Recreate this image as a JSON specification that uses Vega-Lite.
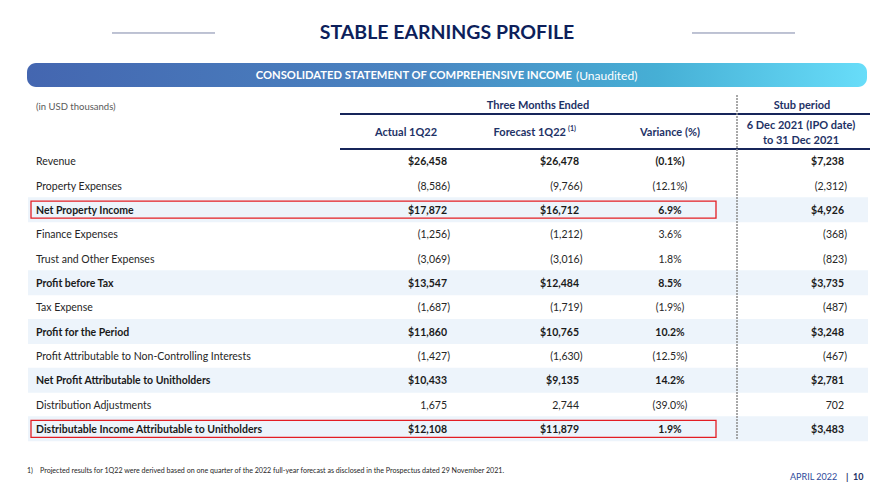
{
  "$schema": "https://vega.github.io/schema/vega-lite/v6.json",
  "width": 876,
  "height": 485,
  "autosize": "none",
  "padding": 0,
  "background": "white",
  "config": {"view": {"stroke": null}, "text": {"font": "Lato", "baseline": "middle", "dy": 1.2}, "scale": {"continuousPadding": 0}},
  "data": {"values": [
    {"order": 0, "item": "Revenue", "actual": "$26,458", "forecast": "$26,478", "variance": "(0.1%)", "stub": "$7,238", "subtotal": false, "boldValues": true, "highlight": false},
    {"order": 1, "item": "Property Expenses", "actual": "(8,586)", "forecast": "(9,766)", "variance": "(12.1%)", "stub": "(2,312)", "subtotal": false, "boldValues": false, "highlight": false},
    {"order": 2, "item": "Net Property Income", "actual": "$17,872", "forecast": "$16,712", "variance": "6.9%", "stub": "$4,926", "subtotal": true, "boldValues": true, "highlight": true},
    {"order": 3, "item": "Finance Expenses", "actual": "(1,256)", "forecast": "(1,212)", "variance": "3.6%", "stub": "(368)", "subtotal": false, "boldValues": false, "highlight": false},
    {"order": 4, "item": "Trust and Other Expenses", "actual": "(3,069)", "forecast": "(3,016)", "variance": "1.8%", "stub": "(823)", "subtotal": false, "boldValues": false, "highlight": false},
    {"order": 5, "item": "Profit before Tax", "actual": "$13,547", "forecast": "$12,484", "variance": "8.5%", "stub": "$3,735", "subtotal": true, "boldValues": true, "highlight": false},
    {"order": 6, "item": "Tax Expense", "actual": "(1,687)", "forecast": "(1,719)", "variance": "(1.9%)", "stub": "(487)", "subtotal": false, "boldValues": false, "highlight": false},
    {"order": 7, "item": "Profit for the Period", "actual": "$11,860", "forecast": "$10,765", "variance": "10.2%", "stub": "$3,248", "subtotal": true, "boldValues": true, "highlight": false},
    {"order": 8, "item": "Profit Attributable to Non-Controlling Interests", "actual": "(1,427)", "forecast": "(1,630)", "variance": "(12.5%)", "stub": "(467)", "subtotal": false, "boldValues": false, "highlight": false},
    {"order": 9, "item": "Net Profit Attributable to Unitholders", "actual": "$10,433", "forecast": "$9,135", "variance": "14.2%", "stub": "$2,781", "subtotal": true, "boldValues": true, "highlight": false},
    {"order": 10, "item": "Distribution Adjustments", "actual": "1,675", "forecast": "2,744", "variance": "(39.0%)", "stub": "702", "subtotal": false, "boldValues": false, "highlight": false},
    {"order": 11, "item": "Distributable Income Attributable to Unitholders", "actual": "$12,108", "forecast": "$11,879", "variance": "1.9%", "stub": "$3,483", "subtotal": true, "boldValues": true, "highlight": true}
  ]},
  "layer": [
    {"data": {"values": [{}]}, "mark": {"type": "rule", "color": "#7d87a8", "strokeWidth": 1},
     "encoding": {"x": {"datum": 112, "type": "quantitative", "scale": {"domain": [0, 876], "nice": false, "zero": false}, "axis": null}, "x2": {"datum": 215},
                  "y": {"datum": -5.257, "type": "quantitative", "scale": {"domain": [-6.612, 13.306], "reverse": true, "nice": false, "zero": false}, "axis": null}}},
    {"data": {"values": [{}]}, "mark": {"type": "rule", "color": "#7d87a8", "strokeWidth": 1},
     "encoding": {"x": {"datum": 692, "type": "quantitative", "scale": {"domain": [0, 876], "nice": false, "zero": false}, "axis": null}, "x2": {"datum": 795},
                  "y": {"datum": -5.257, "type": "quantitative", "scale": {"domain": [-6.612, 13.306], "reverse": true, "nice": false, "zero": false}, "axis": null}}},
    {"data": {"values": [{}]}, "mark": {"type": "text", "text": "STABLE EARNINGS PROFILE", "fontSize": 19.5, "fontWeight": "bold", "color": "#0d1f5b", "align": "center"},
     "encoding": {"x": {"datum": 447, "type": "quantitative", "scale": {"domain": [0, 876], "nice": false, "zero": false}, "axis": null},
                  "y": {"datum": -5.298, "type": "quantitative", "scale": {"domain": [-6.612, 13.306], "reverse": true, "nice": false, "zero": false}, "axis": null}}},
    {"data": {"values": [{}]}, "mark": {"type": "rect", "cornerRadius": 9,
       "fill": {"gradient": "linear", "x1": 0, "x2": 1, "y1": 0, "y2": 0, "stops": [{"offset": 0, "color": "#4466b0"}, {"offset": 0.45, "color": "#4a84c1"}, {"offset": 0.75, "color": "#46afd5"}, {"offset": 1, "color": "#68ddf9"}]}},
     "encoding": {"x": {"datum": 27, "type": "quantitative", "scale": {"domain": [0, 876], "nice": false, "zero": false}, "axis": null}, "x2": {"datum": 867},
                  "y": {"datum": -4.025, "type": "quantitative", "scale": {"domain": [-6.612, 13.306], "reverse": true, "nice": false, "zero": false}, "axis": null}, "y2": {"datum": -3.039}}},
    {"data": {"values": [{}]}, "mark": {"type": "text", "text": "CONSOLIDATED STATEMENT OF COMPREHENSIVE INCOME", "fontSize": 11.2, "fontWeight": "bold", "color": "white", "align": "right"},
     "encoding": {"x": {"datum": 572, "type": "quantitative", "scale": {"domain": [0, 876], "nice": false, "zero": false}, "axis": null},
                  "y": {"datum": -3.532, "type": "quantitative", "scale": {"domain": [-6.612, 13.306], "reverse": true, "nice": false, "zero": false}, "axis": null}}},
    {"data": {"values": [{}]}, "mark": {"type": "text", "text": "(Unaudited)", "fontSize": 12, "color": "white", "align": "left"},
     "encoding": {"x": {"datum": 576, "type": "quantitative", "scale": {"domain": [0, 876], "nice": false, "zero": false}, "axis": null},
                  "y": {"datum": -3.532, "type": "quantitative", "scale": {"domain": [-6.612, 13.306], "reverse": true, "nice": false, "zero": false}, "axis": null}}},
    {"data": {"values": [{}]}, "mark": {"type": "text", "text": "(in USD thousands)", "fontSize": 9.5, "color": "#595959", "align": "left"},
     "encoding": {"x": {"datum": 36, "type": "quantitative", "scale": {"domain": [0, 876], "nice": false, "zero": false}, "axis": null},
                  "y": {"datum": -2.259, "type": "quantitative", "scale": {"domain": [-6.612, 13.306], "reverse": true, "nice": false, "zero": false}, "axis": null}}},
    {"data": {"values": [{}]}, "mark": {"type": "text", "text": "Three Months Ended", "fontSize": 11, "fontWeight": "bold", "color": "#1e3266", "align": "center"},
     "encoding": {"x": {"datum": 538, "type": "quantitative", "scale": {"domain": [0, 876], "nice": false, "zero": false}, "axis": null},
                  "y": {"datum": -2.3, "type": "quantitative", "scale": {"domain": [-6.612, 13.306], "reverse": true, "nice": false, "zero": false}, "axis": null}}},
    {"data": {"values": [{}]}, "mark": {"type": "text", "text": "Stub period", "fontSize": 11, "fontWeight": "bold", "color": "#1e3266", "align": "center"},
     "encoding": {"x": {"datum": 802, "type": "quantitative", "scale": {"domain": [0, 876], "nice": false, "zero": false}, "axis": null},
                  "y": {"datum": -2.3, "type": "quantitative", "scale": {"domain": [-6.612, 13.306], "reverse": true, "nice": false, "zero": false}, "axis": null}}},
    {"data": {"values": [{}]}, "mark": {"type": "rule", "color": "#16255a", "strokeWidth": 2},
     "encoding": {"x": {"datum": 340, "type": "quantitative", "scale": {"domain": [0, 876], "nice": false, "zero": false}, "axis": null}, "x2": {"datum": 870},
                  "y": {"datum": -1.93, "type": "quantitative", "scale": {"domain": [-6.612, 13.306], "reverse": true, "nice": false, "zero": false}, "axis": null}}},
    {"data": {"values": [{}]}, "mark": {"type": "rule", "color": "#16255a", "strokeWidth": 2},
     "encoding": {"x": {"datum": 340, "type": "quantitative", "scale": {"domain": [0, 876], "nice": false, "zero": false}, "axis": null}, "x2": {"datum": 870},
                  "y": {"datum": -0.493, "type": "quantitative", "scale": {"domain": [-6.612, 13.306], "reverse": true, "nice": false, "zero": false}, "axis": null}}},
    {"data": {"values": [{}]}, "mark": {"type": "text", "text": "Actual 1Q22", "fontSize": 11, "fontWeight": "bold", "color": "#1e3266", "align": "center"},
     "encoding": {"x": {"datum": 406, "type": "quantitative", "scale": {"domain": [0, 876], "nice": false, "zero": false}, "axis": null},
                  "y": {"datum": -1.191, "type": "quantitative", "scale": {"domain": [-6.612, 13.306], "reverse": true, "nice": false, "zero": false}, "axis": null}}},
    {"data": {"values": [{}]}, "mark": {"type": "text", "text": "Forecast 1Q22", "fontSize": 11, "fontWeight": "bold", "color": "#1e3266", "align": "right"},
     "encoding": {"x": {"datum": 566, "type": "quantitative", "scale": {"domain": [0, 876], "nice": false, "zero": false}, "axis": null},
                  "y": {"datum": -1.191, "type": "quantitative", "scale": {"domain": [-6.612, 13.306], "reverse": true, "nice": false, "zero": false}, "axis": null}}},
    {"data": {"values": [{}]}, "mark": {"type": "text", "text": "(1)", "fontSize": 7, "fontWeight": "bold", "color": "#1e3266", "align": "left"},
     "encoding": {"x": {"datum": 568, "type": "quantitative", "scale": {"domain": [0, 876], "nice": false, "zero": false}, "axis": null},
                  "y": {"datum": -1.37, "type": "quantitative", "scale": {"domain": [-6.612, 13.306], "reverse": true, "nice": false, "zero": false}, "axis": null}}},
    {"data": {"values": [{}]}, "mark": {"type": "text", "text": "Variance (%)", "fontSize": 11, "fontWeight": "bold", "color": "#1e3266", "align": "center"},
     "encoding": {"x": {"datum": 670, "type": "quantitative", "scale": {"domain": [0, 876], "nice": false, "zero": false}, "axis": null},
                  "y": {"datum": -1.191, "type": "quantitative", "scale": {"domain": [-6.612, 13.306], "reverse": true, "nice": false, "zero": false}, "axis": null}}},
    {"data": {"values": [{}]}, "mark": {"type": "text", "text": "6 Dec 2021 (IPO date)", "fontSize": 11, "fontWeight": "bold", "color": "#1e3266", "align": "center"},
     "encoding": {"x": {"datum": 801, "type": "quantitative", "scale": {"domain": [0, 876], "nice": false, "zero": false}, "axis": null},
                  "y": {"datum": -1.478, "type": "quantitative", "scale": {"domain": [-6.612, 13.306], "reverse": true, "nice": false, "zero": false}, "axis": null}}},
    {"data": {"values": [{}]}, "mark": {"type": "text", "text": "to 31 Dec 2021", "fontSize": 11, "fontWeight": "bold", "color": "#1e3266", "align": "center"},
     "encoding": {"x": {"datum": 801, "type": "quantitative", "scale": {"domain": [0, 876], "nice": false, "zero": false}, "axis": null},
                  "y": {"datum": -0.862, "type": "quantitative", "scale": {"domain": [-6.612, 13.306], "reverse": true, "nice": false, "zero": false}, "axis": null}}},
    {"transform": [{"filter": "datum.subtotal"}], "mark": {"type": "bar", "orient": "horizontal", "height": 25, "color": "#edf4fb"},
     "encoding": {"x": {"datum": 28, "type": "quantitative", "scale": {"domain": [0, 876], "nice": false, "zero": false, "padding": 0}, "axis": null}, "x2": {"datum": 868},
                  "y": {"field": "order", "type": "quantitative", "scale": {"domain": [-6.612, 13.306], "reverse": true, "nice": false, "zero": false, "padding": 0}, "axis": null}}},
    {"data": {"values": [{}]}, "mark": {"type": "rule", "color": "#8c8c8c", "strokeWidth": 1.5, "strokeDash": [2, 1]},
     "encoding": {"x": {"datum": 737, "type": "quantitative", "scale": {"domain": [0, 876], "nice": false, "zero": false}, "axis": null},
                  "y": {"datum": -2.71, "type": "quantitative", "scale": {"domain": [-6.612, 13.306], "reverse": true, "nice": false, "zero": false}, "axis": null}, "y2": {"datum": 11.458}}},
    {"transform": [{"filter": "datum.highlight"}], "mark": {"type": "bar", "orient": "horizontal", "height": 17, "fill": "white", "fillOpacity": 0, "stroke": "#e31e24", "strokeWidth": 1.3},
     "encoding": {"x": {"datum": 31, "type": "quantitative", "scale": {"domain": [0, 876], "nice": false, "zero": false, "padding": 0}, "axis": null}, "x2": {"datum": 716},
                  "y": {"field": "order", "type": "quantitative", "scale": {"domain": [-6.612, 13.306], "reverse": true, "nice": false, "zero": false, "padding": 0}, "axis": null}}},
    {"transform": [{"filter": "datum.subtotal"}], "mark": {"type": "text", "fontSize": 10.5, "fontWeight": "bold", "color": "#1a1a1a", "align": "left"},
     "encoding": {"x": {"datum": 36, "type": "quantitative", "scale": {"domain": [0, 876], "nice": false, "zero": false}, "axis": null},
                  "y": {"field": "order", "type": "quantitative", "scale": {"domain": [-6.612, 13.306], "reverse": true, "nice": false, "zero": false}, "axis": null},
                  "text": {"field": "item"}}},
    {"transform": [{"filter": "!datum.subtotal"}], "mark": {"type": "text", "fontSize": 10.5, "color": "#262626", "align": "left"},
     "encoding": {"x": {"datum": 36, "type": "quantitative", "scale": {"domain": [0, 876], "nice": false, "zero": false}, "axis": null},
                  "y": {"field": "order", "type": "quantitative", "scale": {"domain": [-6.612, 13.306], "reverse": true, "nice": false, "zero": false}, "axis": null},
                  "text": {"field": "item"}}},
    {"transform": [{"filter": "datum.boldValues"}], "mark": {"type": "text", "fontSize": 10.5, "fontWeight": "bold", "color": "#1a1a1a", "align": "right"},
     "encoding": {"x": {"datum": 447, "type": "quantitative", "scale": {"domain": [0, 876], "nice": false, "zero": false}, "axis": null},
                  "y": {"field": "order", "type": "quantitative", "scale": {"domain": [-6.612, 13.306], "reverse": true, "nice": false, "zero": false}, "axis": null},
                  "text": {"field": "actual"}}},
    {"transform": [{"filter": "!datum.boldValues && substring(datum.actual, 0, 1) == '('"}], "mark": {"type": "text", "fontSize": 10.5, "color": "#262626", "align": "right"},
     "encoding": {"x": {"datum": 450, "type": "quantitative", "scale": {"domain": [0, 876], "nice": false, "zero": false}, "axis": null},
                  "y": {"field": "order", "type": "quantitative", "scale": {"domain": [-6.612, 13.306], "reverse": true, "nice": false, "zero": false}, "axis": null},
                  "text": {"field": "actual"}}},
    {"transform": [{"filter": "!datum.boldValues && substring(datum.actual, 0, 1) != '('"}], "mark": {"type": "text", "fontSize": 10.5, "color": "#262626", "align": "right"},
     "encoding": {"x": {"datum": 447, "type": "quantitative", "scale": {"domain": [0, 876], "nice": false, "zero": false}, "axis": null},
                  "y": {"field": "order", "type": "quantitative", "scale": {"domain": [-6.612, 13.306], "reverse": true, "nice": false, "zero": false}, "axis": null},
                  "text": {"field": "actual"}}},
    {"transform": [{"filter": "datum.boldValues"}], "mark": {"type": "text", "fontSize": 10.5, "fontWeight": "bold", "color": "#1a1a1a", "align": "right"},
     "encoding": {"x": {"datum": 579, "type": "quantitative", "scale": {"domain": [0, 876], "nice": false, "zero": false}, "axis": null},
                  "y": {"field": "order", "type": "quantitative", "scale": {"domain": [-6.612, 13.306], "reverse": true, "nice": false, "zero": false}, "axis": null},
                  "text": {"field": "forecast"}}},
    {"transform": [{"filter": "!datum.boldValues && substring(datum.forecast, 0, 1) == '('"}], "mark": {"type": "text", "fontSize": 10.5, "color": "#262626", "align": "right"},
     "encoding": {"x": {"datum": 582.5, "type": "quantitative", "scale": {"domain": [0, 876], "nice": false, "zero": false}, "axis": null},
                  "y": {"field": "order", "type": "quantitative", "scale": {"domain": [-6.612, 13.306], "reverse": true, "nice": false, "zero": false}, "axis": null},
                  "text": {"field": "forecast"}}},
    {"transform": [{"filter": "!datum.boldValues && substring(datum.forecast, 0, 1) != '('"}], "mark": {"type": "text", "fontSize": 10.5, "color": "#262626", "align": "right"},
     "encoding": {"x": {"datum": 579, "type": "quantitative", "scale": {"domain": [0, 876], "nice": false, "zero": false}, "axis": null},
                  "y": {"field": "order", "type": "quantitative", "scale": {"domain": [-6.612, 13.306], "reverse": true, "nice": false, "zero": false}, "axis": null},
                  "text": {"field": "forecast"}}},
    {"transform": [{"filter": "datum.boldValues"}], "mark": {"type": "text", "fontSize": 10.5, "fontWeight": "bold", "color": "#1a1a1a", "align": "center"},
     "encoding": {"x": {"datum": 670, "type": "quantitative", "scale": {"domain": [0, 876], "nice": false, "zero": false}, "axis": null},
                  "y": {"field": "order", "type": "quantitative", "scale": {"domain": [-6.612, 13.306], "reverse": true, "nice": false, "zero": false}, "axis": null},
                  "text": {"field": "variance"}}},
    {"transform": [{"filter": "!datum.boldValues"}], "mark": {"type": "text", "fontSize": 10.5, "color": "#262626", "align": "center"},
     "encoding": {"x": {"datum": 670, "type": "quantitative", "scale": {"domain": [0, 876], "nice": false, "zero": false}, "axis": null},
                  "y": {"field": "order", "type": "quantitative", "scale": {"domain": [-6.612, 13.306], "reverse": true, "nice": false, "zero": false}, "axis": null},
                  "text": {"field": "variance"}}},
    {"transform": [{"filter": "datum.boldValues"}], "mark": {"type": "text", "fontSize": 10.5, "fontWeight": "bold", "color": "#1a1a1a", "align": "right"},
     "encoding": {"x": {"datum": 844, "type": "quantitative", "scale": {"domain": [0, 876], "nice": false, "zero": false}, "axis": null},
                  "y": {"field": "order", "type": "quantitative", "scale": {"domain": [-6.612, 13.306], "reverse": true, "nice": false, "zero": false}, "axis": null},
                  "text": {"field": "stub"}}},
    {"transform": [{"filter": "!datum.boldValues && substring(datum.stub, 0, 1) == '('"}], "mark": {"type": "text", "fontSize": 10.5, "color": "#262626", "align": "right"},
     "encoding": {"x": {"datum": 847, "type": "quantitative", "scale": {"domain": [0, 876], "nice": false, "zero": false}, "axis": null},
                  "y": {"field": "order", "type": "quantitative", "scale": {"domain": [-6.612, 13.306], "reverse": true, "nice": false, "zero": false}, "axis": null},
                  "text": {"field": "stub"}}},
    {"transform": [{"filter": "!datum.boldValues && substring(datum.stub, 0, 1) != '('"}], "mark": {"type": "text", "fontSize": 10.5, "color": "#262626", "align": "right"},
     "encoding": {"x": {"datum": 844, "type": "quantitative", "scale": {"domain": [0, 876], "nice": false, "zero": false}, "axis": null},
                  "y": {"field": "order", "type": "quantitative", "scale": {"domain": [-6.612, 13.306], "reverse": true, "nice": false, "zero": false}, "axis": null},
                  "text": {"field": "stub"}}},
    {"data": {"values": [{}]}, "mark": {"type": "text", "text": "1)", "fontSize": 7, "color": "#262626", "align": "left"},
     "encoding": {"x": {"datum": 27, "type": "quantitative", "scale": {"domain": [0, 876], "nice": false, "zero": false}, "axis": null},
                  "y": {"datum": 12.69, "type": "quantitative", "scale": {"domain": [-6.612, 13.306], "reverse": true, "nice": false, "zero": false}, "axis": null}}},
    {"data": {"values": [{}]}, "mark": {"type": "text", "text": "Projected results for 1Q22 were derived based on one quarter of the 2022 full-year forecast as disclosed in the Prospectus dated 29 November 2021.", "fontSize": 7.1, "color": "#262626", "align": "left"},
     "encoding": {"x": {"datum": 40, "type": "quantitative", "scale": {"domain": [0, 876], "nice": false, "zero": false}, "axis": null},
                  "y": {"datum": 12.69, "type": "quantitative", "scale": {"domain": [-6.612, 13.306], "reverse": true, "nice": false, "zero": false}, "axis": null}}},
    {"data": {"values": [{}]}, "mark": {"type": "text", "text": "APRIL 2022", "fontSize": 9, "color": "#2e4a9a", "align": "left"},
     "encoding": {"x": {"datum": 790, "type": "quantitative", "scale": {"domain": [0, 876], "nice": false, "zero": false}, "axis": null},
                  "y": {"datum": 12.936, "type": "quantitative", "scale": {"domain": [-6.612, 13.306], "reverse": true, "nice": false, "zero": false}, "axis": null}}},
    {"data": {"values": [{}]}, "mark": {"type": "text", "text": "|", "fontSize": 9, "fontWeight": "bold", "color": "#1e3266", "align": "left"},
     "encoding": {"x": {"datum": 846, "type": "quantitative", "scale": {"domain": [0, 876], "nice": false, "zero": false}, "axis": null},
                  "y": {"datum": 12.936, "type": "quantitative", "scale": {"domain": [-6.612, 13.306], "reverse": true, "nice": false, "zero": false}, "axis": null}}},
    {"data": {"values": [{}]}, "mark": {"type": "text", "text": "10", "fontSize": 9, "fontWeight": "bold", "color": "#1e3266", "align": "left"},
     "encoding": {"x": {"datum": 853, "type": "quantitative", "scale": {"domain": [0, 876], "nice": false, "zero": false}, "axis": null},
                  "y": {"datum": 12.936, "type": "quantitative", "scale": {"domain": [-6.612, 13.306], "reverse": true, "nice": false, "zero": false}, "axis": null}}}
  ]
}
